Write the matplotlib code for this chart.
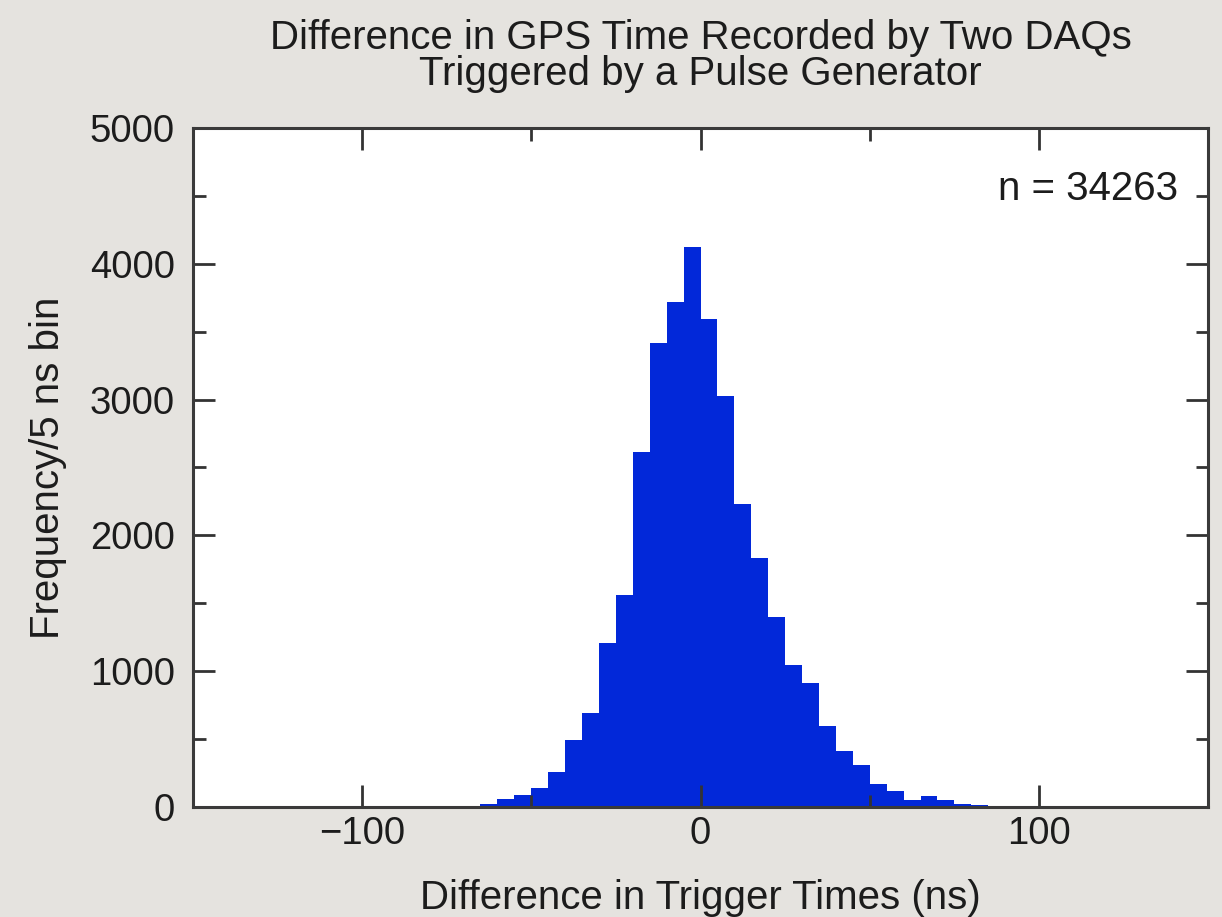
import numpy as np
import matplotlib
matplotlib.use("Agg")
import matplotlib.pyplot as plt
from matplotlib.ticker import MultipleLocator

# left bin edges (ns), 5 ns bins
bin_left = [-65, -60, -55, -50, -45, -40, -35, -30, -25, -20, -15, -10, -5,
            0, 5, 10, 15, 20, 25, 30, 35, 40, 45, 50, 55, 60, 65, 70, 75, 80]
counts = [22, 55, 83, 133, 253, 487, 691, 1207, 1561, 2611, 3417, 3722, 4125,
          3592, 3028, 2231, 1833, 1394, 1042, 908, 597, 411, 306, 167, 111, 47, 75, 50, 22, 8]
bin_width = 5
n_total = 34263

plt.rcParams["font.family"] = ["Liberation Sans", "DejaVu Sans"]
bg = "#e5e3df"
txt = "#1c1c1c"
fig = plt.figure(figsize=(12.22, 9.17), dpi=100, facecolor=bg)
ax = fig.add_axes([0.1577, 0.1205, 0.8311, 0.7396])
ax.set_facecolor("white")

ax.bar(bin_left, counts, width=bin_width, align="edge", color="#0228d9", linewidth=0)

ax.set_xlim(-150, 150)
ax.set_ylim(0, 5000)
ax.xaxis.set_major_locator(MultipleLocator(100))
ax.xaxis.set_minor_locator(MultipleLocator(50))
ax.yaxis.set_major_locator(MultipleLocator(1000))
ax.yaxis.set_minor_locator(MultipleLocator(500))
ax.tick_params(which="both", direction="in", top=True, right=True, color="#333333", width=2)
ax.tick_params(which="major", length=16, labelsize=27.5, labelcolor=txt)
ax.tick_params(axis="y", which="major", pad=13)
ax.tick_params(axis="x", which="major", pad=7)
ax.tick_params(which="minor", length=9)
for s in ax.spines.values():
    s.set_linewidth(2.2)
    s.set_color("#3a3a3a")

ax.set_xlabel("Difference in Trigger Times (ns)", fontsize=29, color=txt, labelpad=19)
ax.set_ylabel("Frequency/5 ns bin", fontsize=29, color=txt, labelpad=16)
ax.set_title("Difference in GPS Time Recorded by Two DAQs\nTriggered by a Pulse Generator",
             fontsize=29, color=txt, pad=31, linespacing=0.95)
ax.text(0.97, 0.91, f"n = {n_total}", transform=ax.transAxes, ha="right", va="center",
        fontsize=29, color=txt)

fig.savefig("out.png", dpi=100, facecolor=bg)
